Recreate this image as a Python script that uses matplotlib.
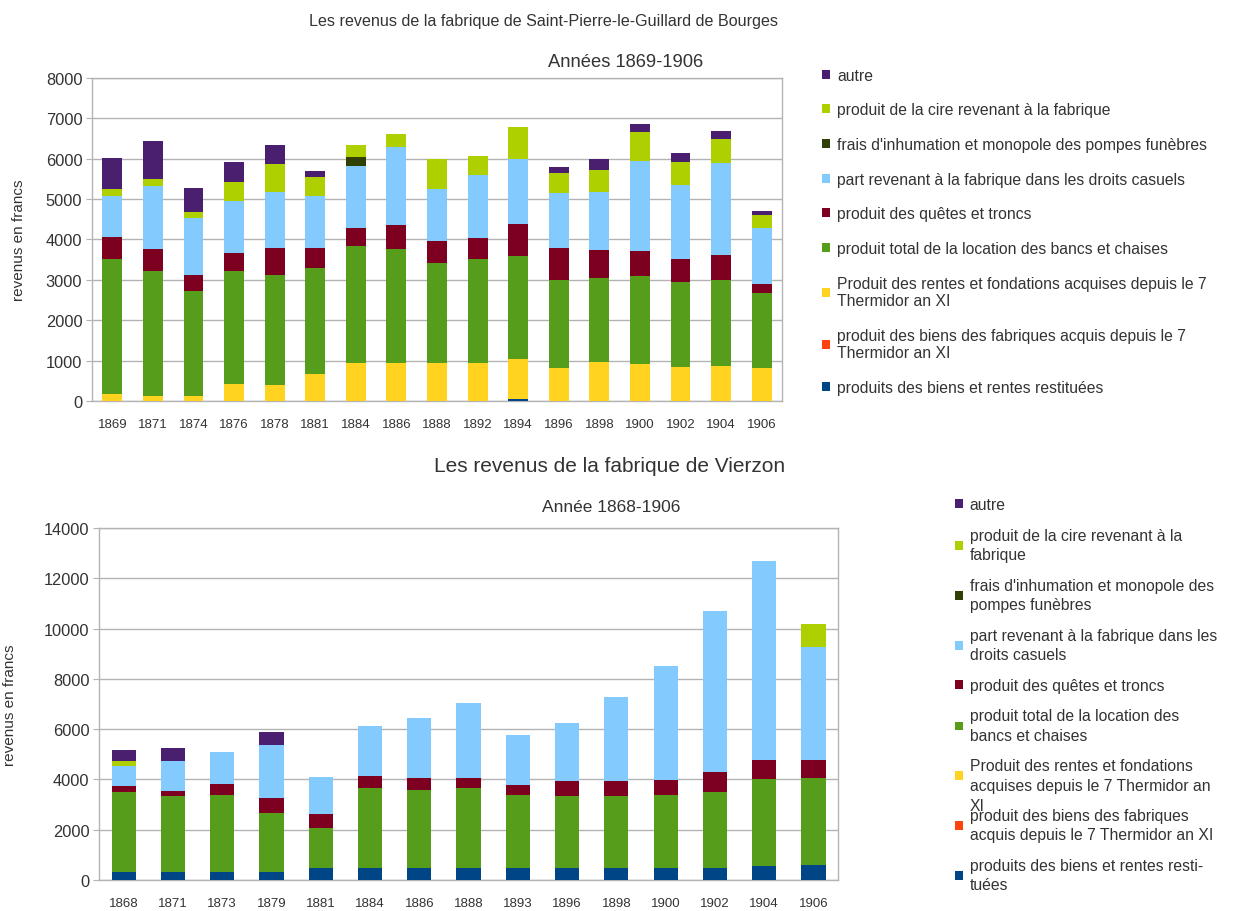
import matplotlib.pyplot as plt
import numpy as np
from matplotlib.patches import Patch

plt.rcParams["font.family"] = ["Liberation Sans", "DejaVu Sans"]

series_top = [
    "produits des biens et rentes restituées",
    "produit des biens des fabriques acquis depuis le 7\nThermidor an XI",
    "Produit des rentes et fondations acquises depuis le 7\nThermidor an XI",
    "produit total de la location des bancs et chaises",
    "produit des quêtes et troncs",
    "part revenant à la fabrique dans les droits casuels",
    "frais d'inhumation et monopole des pompes funèbres",
    "produit de la cire revenant à la fabrique",
    "autre",
]
# the "XI" of the third label overflows its legend row in the original
series_bottom = [
    "produits des biens et rentes resti-\ntuées",
    "produit des biens des fabriques\nacquis depuis le 7 Thermidor an XI",
    "Produit des rentes et fondations\nacquises depuis le 7 Thermidor an",
    "produit total de la location des\nbancs et chaises",
    "produit des quêtes et troncs",
    "part revenant à la fabrique dans les\ndroits casuels",
    "frais d'inhumation et monopole des\npompes funèbres",
    "produit de la cire revenant à la\nfabrique",
    "autre",
]
colors = ["#004586", "#ff420e", "#ffd320", "#579d1c", "#7e0021",
          "#83caff", "#314004", "#aecf00", "#4b1f6f"]

# Saint-Pierre-le-Guillard (Bourges)
years_bourges = ["1869", "1871", "1874", "1876", "1878", "1881", "1884", "1886", "1888",
                 "1892", "1894", "1896", "1898", "1900", "1902", "1904", "1906"]
b_restituees = [0, 0, 0, 0, 0, 0, 0, 0, 0, 0, 40, 0, 0, 0, 0, 0, 0]
b_acquis = [0] * 17
b_rentes = [165, 130, 130, 420, 390, 680, 940, 940, 940, 940, 1010, 820, 960, 925, 850, 870, 820]
b_location = [3345, 3085, 2605, 2810, 2740, 2625, 2895, 2835, 2490, 2570, 2545, 2175, 2090, 2175, 2100, 2125, 1860]
b_quetes = [546, 560, 380, 445, 660, 490, 440, 580, 530, 515, 795, 785, 685, 610, 560, 620, 225]
b_casuels = [1016, 1545, 1420, 1280, 1390, 1280, 1550, 1925, 1295, 1570, 1595, 1365, 1445, 2240, 1835, 2290, 1390]
b_inhumation = [0, 0, 0, 0, 0, 0, 215, 0, 0, 0, 0, 0, 0, 0, 0, 0, 0]
b_cire = [190, 190, 155, 470, 680, 470, 305, 345, 750, 470, 795, 505, 530, 710, 580, 585, 315]
b_autre = [744, 935, 590, 495, 470, 150, 0, 0, 0, 0, 0, 150, 295, 205, 225, 205, 85]

# Vierzon
years_vierzon = ["1868", "1871", "1873", "1879", "1881", "1884", "1886", "1888", "1893",
                 "1896", "1898", "1900", "1902", "1904", "1906"]
v_restituees = [330, 330, 305, 330, 465, 465, 465, 465, 465, 465, 465, 465, 465, 570, 595]
v_acquis = [0] * 15
v_rentes = [0] * 15
v_location = [3155, 2995, 3075, 2320, 1590, 3180, 3125, 3180, 2930, 2860, 2890, 2915, 3020, 3445, 3460]
v_quetes = [240, 200, 435, 595, 555, 475, 450, 400, 385, 625, 595, 610, 820, 755, 715]
v_casuels = [820, 1220, 1260, 2135, 1500, 2015, 2385, 2995, 1990, 2280, 3315, 4535, 6400, 7900, 4505]
v_inhumation = [0] * 15
v_cire = [170, 0, 0, 0, 0, 0, 0, 0, 0, 0, 0, 0, 0, 0, 915]
v_autre = [450, 490, 0, 515, 0, 0, 0, 0, 0, 0, 0, 0, 0, 0, 0]

GRID = "#b3b3b3"
TXT = "#333333"


def stacked(ax, years, stacks, ymax, ystep):
    x = np.arange(len(years))
    bottom = np.zeros(len(years))
    for vals, col in zip(stacks, colors):
        vals = np.array(vals, dtype=float)
        ax.bar(x, vals, 0.49, bottom=bottom, color=col, zorder=3)
        bottom += vals
    ax.set_xlim(-0.5, len(years) - 0.5)
    ax.set_ylim(0, ymax)
    ax.set_yticks(np.arange(0, ymax + 1, ystep))
    ax.set_xticks(x)
    ax.set_xticklabels(years, fontsize=9.5, color=TXT)
    ax.tick_params(axis="x", length=0, pad=12)
    ax.tick_params(axis="y", length=4, color=GRID, labelsize=11.8, labelcolor=TXT, pad=3)
    ax.yaxis.grid(True, color=GRID, lw=1, zorder=0)
    for s in ax.spines.values():
        s.set_color(GRID)
        s.set_linewidth(1)
    ax.set_ylabel("revenus en francs", fontsize=11, color=TXT)


def legend(fig, labels, anchor, spacing, linespacing):
    handles = [Patch(facecolor=c, edgecolor="none") for c in colors]
    leg = fig.legend(handles[::-1], labels[::-1], loc="upper left", bbox_to_anchor=anchor,
                     frameon=False, fontsize=11.3, handlelength=0.5, handleheight=0.5,
                     handletextpad=0.45, labelspacing=spacing, borderaxespad=0, borderpad=0)
    for t in leg.get_texts():
        t.set_color(TXT)
        t.set_linespacing(linespacing)
    return leg


fig = plt.figure(figsize=(12.33, 9.12), dpi=100)

ax1 = fig.add_axes([0.0746, 0.5592, 0.5596, 0.3542])
stacked(ax1, years_bourges,
        [b_restituees, b_acquis, b_rentes, b_location, b_quetes, b_casuels, b_inhumation, b_cire, b_autre],
        8000, 1000)
ax1.yaxis.set_label_coords(-0.096, 0.5)
fig.text(0.441, 0.976, "Les revenus de la fabrique de Saint-Pierre-le-Guillard de Bourges",
         ha="center", va="center", fontsize=11.6, color=TXT)
fig.text(0.507, 0.932, "Années 1869-1906", ha="center", va="center", fontsize=13.2, color=TXT)
legend(fig, series_top, (0.6667, 0.9245), 1.25, 1.2)

ax2 = fig.add_axes([0.0803, 0.0340, 0.5994, 0.386])
stacked(ax2, years_vierzon,
        [v_restituees, v_acquis, v_rentes, v_location, v_quetes, v_casuels, v_inhumation, v_cire, v_autre],
        14000, 2000)
ax2.yaxis.set_label_coords(-0.111, 0.5)
fig.text(0.494, 0.488, "Les revenus de la fabrique de Vierzon", ha="center", va="center",
         fontsize=15, color=TXT)
fig.text(0.496, 0.444, "Année 1868-1906", ha="center", va="center", fontsize=12.5, color=TXT)
leg2 = legend(fig, series_bottom, (0.7745, 0.4535), 1.0, 1.35)

# overflowing last line of the "rentes" label
fig.canvas.draw()
rentes_txt = leg2.get_texts()[len(colors) - 1 - 2]
bb = rentes_txt.get_window_extent().transformed(fig.transFigure.inverted())
fig.text(bb.x0, bb.y0 - 0.006, "XI", ha="left", va="top", fontsize=11.3, color=TXT)

fig.savefig("out.png", dpi=100)
